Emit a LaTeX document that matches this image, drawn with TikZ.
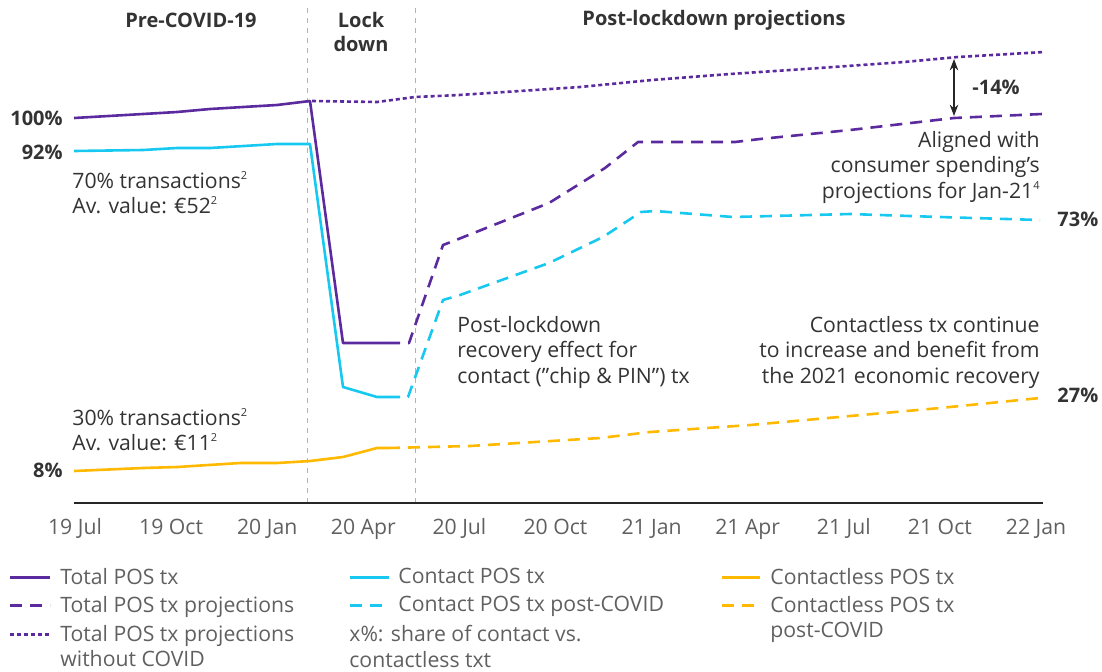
\documentclass[tikz,border=0pt]{standalone}
\usepackage{fontspec}
\setmainfont{Open Sans}
\usetikzlibrary{arrows.meta}
\definecolor{totalc}{HTML}{5A2A9E}
\definecolor{contactc}{HTML}{17C8F0}
\definecolor{clessc}{HTML}{FFB900}
\definecolor{txtc}{HTML}{333333}
\definecolor{greyc}{HTML}{606060}
\newcommand{\supnum}[1]{\raisebox{0.42em}{\fontsize{5.5}{6}\selectfont #1}}

\begin{document}
\begin{tikzpicture}[x=0.5pt, y=-0.5pt, >=Stealth,
    font=\fontsize{10.6}{12.7}\selectfont,
    serie/.style={line width=1.3pt, line join=round},
    proj/.style={dash pattern=on 6pt off 4pt},
    nocovid/.style={dash pattern=on 2pt off 1.5pt},
    sep/.style={draw=black!30, line width=0.5pt, dash pattern=on 2.5pt off 2.5pt},
    head/.style={font=\fontsize{10}{12}\selectfont\bfseries, text=txtc, align=center},
    pct/.style={font=\fontsize{10}{12}\selectfont\bfseries, text=txtc, inner sep=0pt},
    note/.style={text=txtc, inner sep=0pt},
    tick/.style={text=greyc, inner sep=0pt, anchor=base},
    leg/.style={text=greyc, inner sep=0pt, align=left, anchor=north west},
    legline/.style={line width=1.5pt}]
    \useasboundingbox (0,0) rectangle (1102,671);
    % Periods
    \node[head] (pre) at (191,20) {Pre-COVID-19};
    \node[head] (lock) at (361,32) {Lock\\down};
    \node[head] (post) at (714,20) {Post-lockdown projections};
    \coordinate (s1t) at (307,8);  \coordinate (s1b) at (307,503);
    \coordinate (s2t) at (415,8);  \coordinate (s2b) at (415,503);
    \draw[sep] (s1t) -- (s1b);
    \draw[sep] (s2t) -- (s2b);
    % Axis
    \coordinate (ax0) at (74,503);
    \coordinate (ax1) at (1043,503);
    \draw[line width=0.8pt, black!85] (ax0) -- (ax1);
    \foreach \lab [count=\i from 0] in {19 Jul,19 Oct,20 Jan,20 Apr,20 Jul,20 Oct,21 Jan,21 Apr,21 Jul,21 Oct,22 Jan}
        \node[tick] (t\i) at ({75+96.1*\i},534) {\lab};
    % Total POS tx
    \draw[serie, totalc] (74,118) -- (143,114) -- (177,112) -- (210,109) -- (243,107) -- (277,105)
        -- (310,101) -- (343,343) -- (388,343);
    \draw[serie, totalc, proj] (388,343) -- (409,343) -- (443,245) -- (456,240) -- (549,203)
        -- (605,168) -- (638,142) -- (735,142) -- (760,139) -- (850,130) -- (954,118) -- (1042,114);
    \draw[serie, totalc, nocovid] (312,101) -- (377,102) -- (415,97) -- (459,95) -- (520,91)
        -- (580,87) -- (652,80) -- (730,74) -- (805,69) -- (904,62) -- (958,57) -- (1044,52);
    % Contact POS tx
    \draw[serie, contactc] (74,151) -- (143,150) -- (177,148) -- (210,148) -- (277,144) -- (310,144)
        -- (343,387) -- (377,397) -- (388,397);
    \draw[serie, contactc, proj] (388,397) -- (408,397) -- (443,300) -- (460,295) -- (549,263)
        -- (603,237) -- (641,212) -- (655,211) -- (733,217) -- (850,214) -- (940,217) -- (1040,220);
    % Contactless POS tx
    \draw[serie, clessc] (74,471) -- (143,468) -- (177,467) -- (240,463) -- (277,463) -- (310,461)
        -- (343,457) -- (377,448) -- (388,448);
    \draw[serie, clessc, proj] (388,448) -- (470,446) -- (600,438) -- (650,432) -- (750,425)
        -- (850,416) -- (940,408) -- (1040,398);
    % Gap
    \coordinate (g1) at (954,59);
    \coordinate (g2) at (954,116);
    \draw[<->, line width=0.6pt, black!85] (g1) -- (g2);
    \node[pct, anchor=west] (gap) at (972,87) {-14\%};
    % Shares
    \node[pct, anchor=east] (p100) at (63,118) {100\%};
    \node[pct, anchor=east] (p92) at (63,152) {92\%};
    \node[pct, anchor=east] (p8) at (63,470) {8\%};
    \node[pct, anchor=west] (p73) at (1057,219) {73\%};
    \node[pct, anchor=west] (p27) at (1057,395) {27\%};
    % Notes
    \node[note, anchor=north west, align=left] (n70) at (72,171)
        {70\% transactions\supnum{2}\\Av. value: €52\supnum{2}};
    \node[note, anchor=north west, align=left] (n30) at (72,408)
        {30\% transactions\supnum{2}\\Av. value: €11\supnum{2}};
    \node[note, anchor=north west, align=left] (nrec) at (457,316)
        {Post-lockdown\\recovery effect for\\contact (”chip \& PIN”) tx};
    \node[note, anchor=north east, align=right] (ncl) at (1040,316)
        {Contactless tx continue\\to increase and benefit from\\the 2021 economic recovery};
    \node[note, anchor=north east, align=right] (nal) at (1040,131)
        {Aligned with\\consumer spending’s\\projections for Jan-21\supnum{4}};
    % Legend
    \coordinate (la1) at (10,577); \coordinate (lb1) at (50,577);
    \coordinate (la2) at (10,605); \coordinate (lb2) at (50,605);
    \coordinate (la3) at (10,634); \coordinate (lb3) at (50,634);
    \coordinate (la4) at (350,577); \coordinate (lb4) at (389,577);
    \coordinate (la5) at (350,605); \coordinate (lb5) at (389,605);
    \coordinate (la6) at (722,577); \coordinate (lb6) at (760,577);
    \coordinate (la7) at (722,605); \coordinate (lb7) at (760,605);
    \draw[legline, totalc] (la1) -- (lb1);
    \draw[legline, totalc, proj] (la2) -- (lb2);
    \draw[legline, totalc, nocovid] (la3) -- (lb3);
    \draw[legline, contactc] (la4) -- (lb4);
    \draw[legline, contactc, proj] (la5) -- (lb5);
    \draw[legline, clessc] (la6) -- (lb6);
    \draw[legline, clessc, proj] (la7) -- (lb7);
    \node[leg] (l1) at (60,568) {Total POS tx};
    \node[leg] (l2) at (60,596) {Total POS tx projections};
    \node[leg] (l3) at (60,625) {Total POS tx projections\\without COVID};
    \node[leg] (l4) at (398,568) {Contact POS tx};
    \node[leg] (l5) at (398,596) {Contact POS tx post-COVID};
    \node[leg] (l8) at (349,625) {x\%: share of contact vs.\\contactless txt};
    \node[leg] (l6) at (770,568) {Contactless POS tx};
    \node[leg] (l7) at (770,596) {Contactless POS tx\\post-COVID};
\end{tikzpicture}
\end{document}
